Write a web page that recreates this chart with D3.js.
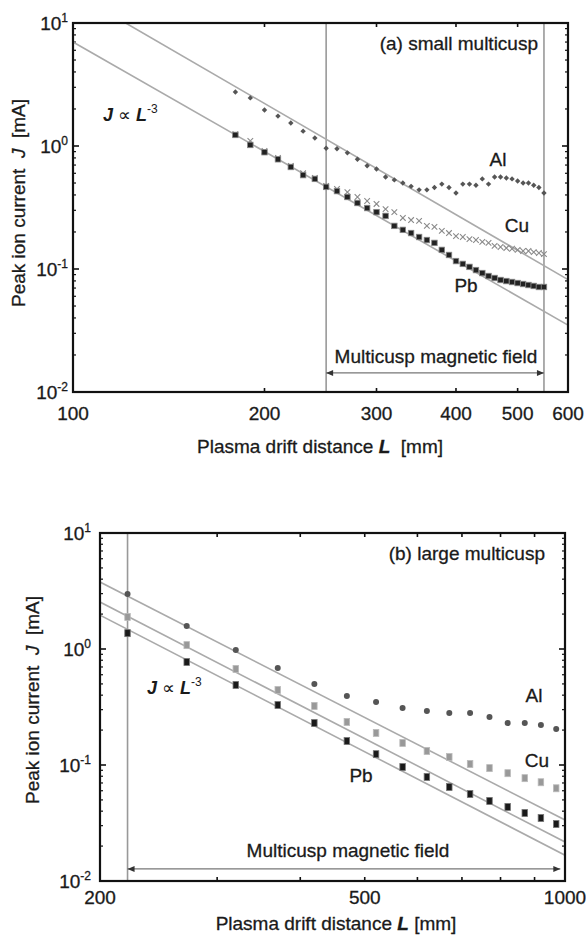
<!DOCTYPE html>
<html><head><meta charset="utf-8">
<script src="https://cdn.jsdelivr.net/npm/d3@7/dist/d3.min.js"></script>
<style>
body{margin:0;background:#fff;}
svg{display:block;font-family:"Liberation Sans",Arial,Helvetica,sans-serif;}
svg text{white-space:pre;}
</style></head>
<body>
<svg id="chart" width="586" height="935"></svg>
<script>
// ---------- Panel (a): small multicusp ----------
const topL = [180,190,200,210,220,230,240,250,260,270,280,290,300,310,320,330,340,350,360,370,380,390,400,410,420,430,440,450,460,470,480,490,500,510,520,530,540,550];
const topAl = [2.75,2.46,1.96,1.75,1.54,1.32,1.16,0.96,0.95,0.88,0.78,0.69,0.65,0.56,0.53,0.50,0.47,0.44,0.44,0.46,0.49,0.46,0.415,0.49,0.49,0.48,0.54,0.49,0.56,0.56,0.55,0.54,0.52,0.50,0.50,0.48,0.46,0.415];
const topCu = [1.25,1.10,0.91,0.80,0.69,0.60,0.55,0.473,0.447,0.422,0.385,0.357,0.338,0.307,0.290,0.260,0.250,0.246,0.224,0.220,0.204,0.196,0.185,0.182,0.175,0.172,0.166,0.163,0.154,0.151,0.148,0.146,0.143,0.140,0.140,0.137,0.135,0.132];
const topPb = [1.23,1.02,0.89,0.78,0.675,0.58,0.54,0.465,0.43,0.385,0.344,0.313,0.290,0.270,0.224,0.208,0.196,0.182,0.172,0.163,0.143,0.130,0.116,0.110,0.104,0.098,0.0927,0.0877,0.0845,0.0814,0.0798,0.0784,0.0769,0.0755,0.0741,0.0728,0.0714,0.0714];
const topRefLines = [[[121,10],[600,0.082]],[[100,7.0],[600,0.035]]];
const topXTicks = [100,200,300,400,500,600];
const topFieldRange = [250,550];

// ---------- Panel (b): large multicusp ----------
const botL = [220,270,320,370,420,470,520,570,620,670,720,770,820,870,920,970];
const botAl = [2.98,1.58,0.98,0.686,0.499,0.393,0.349,0.310,0.292,0.281,0.281,0.259,0.230,0.230,0.221,0.204];
const botCu = [1.89,1.08,0.673,0.443,0.323,0.235,0.189,0.155,0.132,0.117,0.102,0.094,0.085,0.077,0.071,0.063];
const botPb = [1.37,0.773,0.490,0.329,0.230,0.161,0.124,0.096,0.0789,0.0646,0.0562,0.0490,0.0435,0.0386,0.0349,0.0310];
const botRefLines = [[[200,3.78],[1000,0.0336]],[[200,2.54],[1000,0.0217]],[[200,1.96],[1000,0.0167]]];
const botXTicks = [200,300,400,500,600,700,800,900,1000];
const botXLabels = [200,500,1000];
const botFieldRange = [220,984];

const yDecades = [0.01,0.1,1,10];
const yExps = ["-2","-1","0","1"];

const svg = d3.select("#chart");
const FS = 19;
const INK = "#1a1a1a";

function ink(sel) {
  return sel.attr("fill", INK).attr("stroke", INK).attr("stroke-width", 0.3);
}

function drawPanel(cfg) {
  const g = svg.append("g");
  const x = d3.scaleLog().domain(cfg.xDomain).range([cfg.left, cfg.right]);
  const y = d3.scaleLog().domain([0.01, 10]).range([cfg.bottom, cfg.top]);
  const clipId = "clip" + cfg.id;
  svg.append("defs").append("clipPath").attr("id", clipId).append("rect")
    .attr("x", cfg.left).attr("y", cfg.top).attr("width", cfg.right - cfg.left).attr("height", cfg.bottom - cfg.top);

  // ticks (inward, all sides)
  const minor = [];
  yDecades.slice(0, 3).forEach(d => { for (let k = 2; k <= 9; k++) minor.push(d * k); });
  const tg = g.append("g").attr("stroke", "#111");
  yDecades.forEach(v => {
    tg.append("line").attr("x1", cfg.left).attr("x2", cfg.left + 6).attr("y1", y(v)).attr("y2", y(v)).attr("stroke-width", 1.6);
    tg.append("line").attr("x1", cfg.right).attr("x2", cfg.right - 6).attr("y1", y(v)).attr("y2", y(v)).attr("stroke-width", 1.6);
  });
  minor.forEach(v => {
    tg.append("line").attr("x1", cfg.left).attr("x2", cfg.left + 3).attr("y1", y(v)).attr("y2", y(v)).attr("stroke-width", 1.2);
    tg.append("line").attr("x1", cfg.right).attr("x2", cfg.right - 3).attr("y1", y(v)).attr("y2", y(v)).attr("stroke-width", 1.2);
  });
  cfg.xTicks.forEach(v => {
    tg.append("line").attr("x1", x(v)).attr("x2", x(v)).attr("y1", cfg.bottom).attr("y2", cfg.bottom - 4).attr("stroke-width", 1.6);
    tg.append("line").attr("x1", x(v)).attr("x2", x(v)).attr("y1", cfg.top).attr("y2", cfg.top + 4).attr("stroke-width", 1.6);
  });

  // y tick labels
  yDecades.forEach((v, i) => {
    const t = ink(g.append("text").attr("x", cfg.yLabelX).attr("y", y(v) + 7).attr("text-anchor", "end")
      .attr("font-size", FS));
    t.append("tspan").text("10");
    t.append("tspan").attr("font-size", 12).attr("dy", -8).text(yExps[i]);
  });
  // x tick labels
  cfg.xLabels.forEach(v => {
    ink(g.append("text").attr("x", x(v)).attr("y", cfg.xLabelY).attr("text-anchor", "middle")
      .attr("font-size", FS)).text(v);
  });

  const plot = g.append("g").attr("clip-path", `url(#${clipId})`);

  // vertical field boundary lines
  cfg.vlines.forEach(v => {
    plot.append("line").attr("x1", x(v)).attr("x2", x(v)).attr("y1", cfg.top).attr("y2", cfg.bottom)
      .attr("stroke", "#999").attr("stroke-width", 1.6);
  });

  // reference lines J ∝ L^-3
  const line = d3.line().x(d => x(d[0])).y(d => y(d[1]));
  cfg.refLines.forEach(pts => {
    plot.append("path").attr("d", line(pts)).attr("fill", "none").attr("stroke", "#aaa").attr("stroke-width", 1.6);
  });

  // arrow (field range)
  const ay = y(cfg.arrowJ);
  const x0 = x(cfg.fieldRange[0]), x1 = x(cfg.fieldRange[1]);
  plot.append("line").attr("x1", x0).attr("x2", x1).attr("y1", ay).attr("y2", ay).attr("stroke", "#777").attr("stroke-width", 1.3);
  plot.append("path").attr("d", `M${x0},${ay} l7,-3 l0,6 z`).attr("fill", "#333");
  plot.append("path").attr("d", `M${x1},${ay} l-7,-3 l0,6 z`).attr("fill", "#333");
  ink(g.append("text").attr("x", cfg.fieldTextX).attr("y", cfg.fieldTextY).attr("text-anchor", "middle")
    .attr("font-size", FS)).text("Multicusp magnetic field");

  // data markers
  cfg.series.forEach(s => {
    const mg = plot.append("g");
    cfg.L.forEach((l, i) => {
      const px = x(l), py = y(s.values[i]);
      if (s.shape === "circle") {
        mg.append("circle").attr("cx", px).attr("cy", py).attr("r", s.size).attr("fill", s.color);
      } else if (s.shape === "diamond") {
        mg.append("path").attr("d", `M${px},${py - s.size} L${px + s.size},${py} L${px},${py + s.size} L${px - s.size},${py} Z`).attr("fill", s.color);
      } else if (s.shape === "square") {
        mg.append("rect").attr("x", px - s.w / 2).attr("y", py - s.h / 2).attr("width", s.w).attr("height", s.h)
          .attr("fill", s.color).attr("stroke", s.stroke || "none").attr("stroke-width", 0.8);
      } else if (s.shape === "cross") {
        const r = s.size;
        mg.append("path").attr("d", `M${px - r},${py - r} L${px + r},${py + r} M${px - r},${py + r} L${px + r},${py - r}`)
          .attr("stroke", s.color).attr("stroke-width", 1.1).attr("fill", "none");
      }
    });
  });

  // frame
  g.append("rect").attr("x", cfg.left).attr("y", cfg.top).attr("width", cfg.right - cfg.left).attr("height", cfg.bottom - cfg.top)
    .attr("fill", "none").attr("stroke", "#111").attr("stroke-width", 2.2);

  // series labels
  cfg.seriesLabels.forEach(l => {
    ink(g.append("text").attr("x", l.x).attr("y", l.y).attr("text-anchor", "middle").attr("font-size", FS)).text(l.t);
  });

  // panel title
  ink(g.append("text").attr("x", cfg.titleX).attr("y", cfg.titleY).attr("text-anchor", "end").attr("font-size", FS)).text(cfg.title);

  // J ∝ L^-3
  const pl = g.append("text").attr("x", cfg.lawX).attr("y", cfg.lawY).attr("font-size", 18).attr("font-weight", "bold").attr("fill", INK);
  pl.append("tspan").attr("font-style", "italic").text("J");
  pl.append("tspan").attr("font-weight", "normal").text(" \u221D ");
  pl.append("tspan").attr("font-style", "italic").text("L");
  pl.append("tspan").attr("font-size", 12).attr("font-weight", "normal").attr("dy", -8).text("-3");

  // axis titles
  const xt = ink(g.append("text").attr("x", cfg.xTitleX).attr("y", cfg.xTitleY).attr("text-anchor", "middle").attr("font-size", FS));
  xt.append("tspan").text("Plasma drift distance ");
  xt.append("tspan").attr("font-style", "italic").attr("font-weight", "bold").text("L");
  xt.append("tspan").text(cfg.xTitleGap + "[mm]");

  const yt = ink(g.append("text").attr("transform", `translate(${cfg.yTitleX},${cfg.yTitleY}) rotate(-90)`)
    .attr("text-anchor", "middle").attr("font-size", FS));
  yt.append("tspan").text("Peak ion current  ");
  yt.append("tspan").attr("font-style", "italic").text("J");
  yt.append("tspan").text("  [mA]");
}

drawPanel({
  id: "a", left: 73, right: 568, top: 23, bottom: 392, xDomain: [100, 600],
  L: topL, xTicks: topXTicks.slice(1, 5), xLabels: topXTicks, xLabelY: 420, yLabelX: 68,
  vlines: topFieldRange, refLines: topRefLines, fieldRange: topFieldRange, arrowJ: 0.0143,
  fieldTextX: 436, fieldTextY: 363,
  series: [
    {values: topCu, shape: "cross", size: 2.8, color: "#8a8a8a"},
    {values: topPb, shape: "square", w: 5.5, h: 5.5, color: "#222", stroke: "#888"},
    {values: topAl, shape: "diamond", size: 2.7, color: "#555"}
  ],
  seriesLabels: [{t: "Al", x: 498, y: 166}, {t: "Cu", x: 517, y: 232}, {t: "Pb", x: 466, y: 292}],
  title: "(a) small multicusp", titleX: 538, titleY: 50,
  lawX: 103, lawY: 121,
  xTitleX: 320, xTitleY: 453, xTitleGap: "  ",
  yTitleX: 25, yTitleY: 203
});

drawPanel({
  id: "b", left: 100, right: 565, top: 533, bottom: 881, xDomain: [200, 1000],
  L: botL, xTicks: botXTicks.slice(1, 8), xLabels: botXLabels, xLabelY: 904, yLabelX: 91,
  vlines: [botFieldRange[0]], refLines: botRefLines, fieldRange: botFieldRange, arrowJ: 0.0127,
  fieldTextX: 348, fieldTextY: 857,
  series: [
    {values: botAl, shape: "circle", size: 3, color: "#555"},
    {values: botCu, shape: "square", w: 5.5, h: 7, color: "#999", stroke: "#bbb"},
    {values: botPb, shape: "square", w: 5.5, h: 7, color: "#1a1a1a", stroke: "#777"}
  ],
  seriesLabels: [{t: "Al", x: 534, y: 702}, {t: "Cu", x: 537, y: 767}, {t: "Pb", x: 361, y: 782}],
  title: "(b) large multicusp", titleX: 545, titleY: 560,
  lawX: 147, lawY: 694,
  xTitleX: 336, xTitleY: 930, xTitleGap: " ",
  yTitleX: 39, yTitleY: 700
});
</script>
</body></html>
